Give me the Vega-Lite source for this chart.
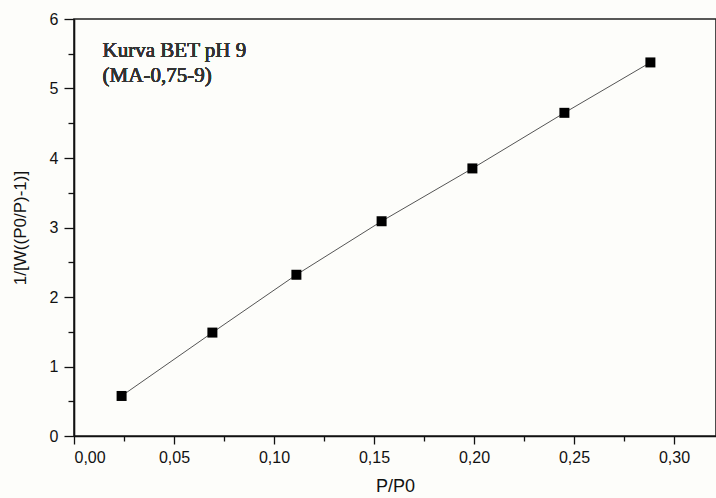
{
  "$schema": "https://vega.github.io/schema/vega-lite/v6.json",
  "width": 642,
  "height": 417,
  "autosize": "none",
  "padding": {"left": 74, "top": 19, "right": 0, "bottom": 62},
  "background": "#fdfdfa",
  "view": {"stroke": "#222", "strokeWidth": 1.6},
  "config": {
    "font": "Liberation Sans",
    "axis": {"domainColor": "#111", "domainWidth": 1.6, "tickColor": "#111", "tickWidth": 1.3, "labelColor": "#111", "titleColor": "#111", "grid": false}
  },
  "data": {
    "values": [
      {"p": 0.0238, "v": 0.576},
      {"p": 0.0692, "v": 1.488},
      {"p": 0.1112, "v": 2.32},
      {"p": 0.1538, "v": 3.09},
      {"p": 0.1992, "v": 3.85},
      {"p": 0.2452, "v": 4.65},
      {"p": 0.2882, "v": 5.375}
    ]
  },
  "encoding": {
    "x": {
      "field": "p", "type": "quantitative",
      "scale": {"domain": [0, 0.321], "nice": false, "zero": false},
      "axis": {
        "title": "P/P0", "titleFontSize": 18, "titleFontWeight": "normal", "titlePadding": 12,
        "values": [0, 0.025, 0.05, 0.075, 0.1, 0.125, 0.15, 0.175, 0.2, 0.225, 0.25, 0.275, 0.3],
        "labelExpr": "abs(datum.value*20 - round(datum.value*20)) < 0.001 ? replace(format(datum.value, '.2f'), '.', ',') : ''",
        "labelFontSize": 16, "labelPadding": 5,
        "tickSize": {"condition": {"test": "abs(datum.value*20 - round(datum.value*20)) < 0.001", "value": 8}, "value": 5}
      }
    },
    "y": {
      "field": "v", "type": "quantitative",
      "scale": {"domain": [0, 6], "nice": false},
      "axis": {
        "title": "1/[W((P0/P)-1)]", "titleFontSize": 17, "titleFontWeight": "normal", "titlePadding": 20,
        "values": [0, 0.5, 1, 1.5, 2, 2.5, 3, 3.5, 4, 4.5, 5, 5.5, 6],
        "labelExpr": "datum.value % 1 === 0 ? format(datum.value, 'd') : ''",
        "labelFontSize": 16, "labelPadding": 6,
        "tickSize": {"condition": {"test": "datum.value % 1 === 0", "value": 10}, "value": 6}
      }
    }
  },
  "layer": [
    {"mark": {"type": "line", "color": "#555", "strokeWidth": 1}},
    {"mark": {"type": "point", "shape": "square", "filled": true, "color": "#000", "opacity": 1, "size": 100}},
    {
      "mark": {"type": "text", "font": "Liberation Serif", "fontSize": 21, "fontWeight": "normal", "align": "left", "baseline": "middle", "color": "#333", "lineHeight": 25},
      "encoding": {
        "x": {"datum": 0.0143},
        "y": {"datum": 5.535},
        "text": {"value": ["Kurva BET pH 9", "(MA-0,75-9)"]}
      }
    }
  ]
}
